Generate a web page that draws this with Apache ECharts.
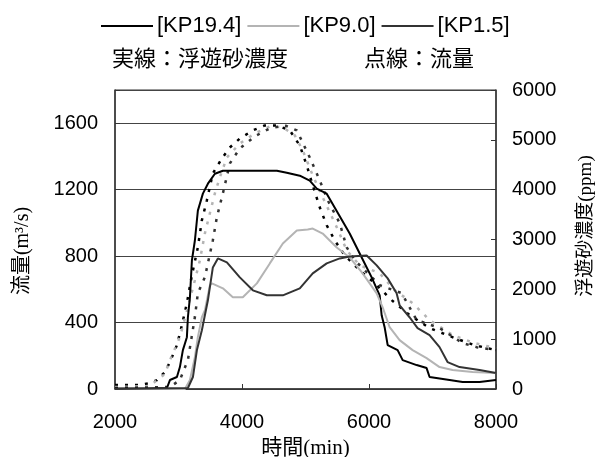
<!DOCTYPE html>
<html>
<head>
<meta charset="utf-8">
<script src="https://cdn.jsdelivr.net/npm/echarts@6/dist/echarts.min.js"></script>
<style>
html,body{margin:0;padding:0;background:#fff;}
#main{width:597px;height:457px;}
</style>
</head>
<body>
<div id="main"></div>
<script>
// ---- data ----
const seriesNames = ['[KP19.4]', '[KP9.0]', '[KP1.5]'];
const xTicks = [2000, 4000, 6000, 8000];
const leftTicks = [0, 400, 800, 1200, 1600];
const rightTicks = [0, 1000, 2000, 3000, 4000, 5000, 6000];

// suspended sediment concentration (ppm, right axis) - solid lines
const concTimeKP194 = [2000, 2500, 2818, 2865, 2975, 3022, 3069, 3132, 3148, 3180, 3211, 3258, 3305, 3384, 3463, 3573, 3699, 4000, 4550, 4705, 4910, 5067, 5177, 5334, 5696, 5885, 6042, 6168, 6199, 6246, 6294, 6451, 6530, 6750, 6907, 6954, 7269, 7474, 7741, 8000];
const concKP194 = [10, 10, 20, 180, 240, 440, 780, 1040, 1440, 1840, 2580, 2980, 3580, 3920, 4120, 4320, 4380, 4380, 4380, 4340, 4280, 4180, 4020, 3920, 3120, 2640, 2240, 1880, 1480, 1240, 880, 780, 580, 480, 420, 240, 180, 140, 140, 180];

const concTimeKP90 = [2000, 3101, 3180, 3258, 3305, 3368, 3416, 3494, 3526, 3699, 3856, 4013, 4234, 4438, 4643, 4863, 5035, 5114, 5271, 5492, 5696, 5900, 6121, 6215, 6325, 6482, 6687, 6907, 7111, 7316, 7631, 8000];
const concKP90 = [0, 0, 180, 640, 1040, 1440, 1580, 2080, 2120, 2020, 1840, 1840, 2120, 2520, 2920, 3180, 3200, 3220, 3120, 2840, 2640, 2320, 1920, 1640, 1240, 980, 780, 620, 440, 380, 340, 320];

const concTimeKP15 = [2000, 3148, 3227, 3290, 3368, 3463, 3541, 3620, 3762, 3966, 4171, 4391, 4643, 4910, 5114, 5334, 5539, 5696, 5963, 6121, 6294, 6435, 6482, 6639, 6765, 6954, 7111, 7237, 7426, 7741, 8000];
const concKP15 = [0, 20, 240, 780, 1180, 1780, 2440, 2620, 2540, 2240, 1980, 1880, 1880, 2020, 2320, 2520, 2620, 2660, 2680, 2480, 2220, 1920, 1680, 1440, 1220, 1080, 840, 540, 440, 380, 320];

// discharge (m3/s, left axis) - dotted lines
const flowTimeKP194 = [2000, 2393, 2550, 2661, 2786, 2865, 2975, 3054, 3132, 3211, 3305, 3368, 3447, 3541, 3683, 3809, 3966, 4171, 4359, 4548, 4753, 4910, 5020, 5114, 5224, 5334, 5460, 5617, 5853, 6089, 6357, 6640, 6954, 7348, 7663, 8000];
const flowKP194 = [24, 24, 36, 54, 102, 162, 264, 385, 517, 685, 853, 1016, 1136, 1298, 1388, 1454, 1508, 1557, 1587, 1587, 1557, 1466, 1346, 1226, 1094, 986, 895, 805, 715, 637, 535, 445, 367, 307, 264, 234];

const flowTimeKP90 = [2000, 2550, 2661, 2786, 2865, 3022, 3148, 3258, 3337, 3416, 3494, 3573, 3651, 3762, 3966, 4202, 4438, 4643, 4831, 4957, 5114, 5271, 5492, 5649, 5853, 6168, 6404, 6687, 6954, 7316, 7663, 8000];
const flowKP90 = [12, 18, 54, 90, 174, 313, 493, 655, 775, 938, 1058, 1178, 1274, 1394, 1478, 1539, 1581, 1575, 1527, 1436, 1286, 1154, 974, 835, 745, 697, 595, 517, 415, 325, 276, 246];

const flowTimeKP15 = [2000, 2865, 3022, 3148, 3258, 3305, 3416, 3463, 3541, 3604, 3699, 3809, 3966, 4202, 4438, 4674, 4863, 5067, 5224, 5350, 5539, 5649, 5775, 6168, 6514, 6750, 7111, 7474, 7694, 8000];
const flowKP15 = [6, 12, 54, 174, 433, 577, 673, 757, 895, 1034, 1178, 1358, 1448, 1521, 1569, 1587, 1557, 1394, 1256, 1136, 998, 853, 775, 625, 577, 415, 367, 276, 252, 234];

// ---- chart ----
const pair = (t, v) => t.map((x, i) => [x, v[i]]);
const colors = ['#000000', '#b4b4b4', '#333333'];
const latin = "'Liberation Sans', Arial, sans-serif";
const serifCJK = "'Liberation Serif', 'Noto Sans CJK JP', serif";

const chart = echarts.init(document.getElementById('main'), null, {renderer: 'canvas'});

const solid = (name, t, v, c) => ({
  name: name, type: 'line', yAxisIndex: 1, data: pair(t, v), showSymbol: false, symbol: 'none',
  lineStyle: {color: c, width: 2, type: 'solid'}, itemStyle: {color: c}, z: 3, animation: false
});
const dotted = (name, t, v, c) => ({
  name: name, type: 'line', yAxisIndex: 0, data: pair(t, v), showSymbol: false, symbol: 'none',
  lineStyle: {color: c, width: 2.5, type: [3, 7]}, itemStyle: {color: c}, z: 2, animation: false
});

chart.setOption({
  animation: false,
  backgroundColor: '#ffffff',
  grid: {left: 115, right: 101, top: 90, bottom: 68, show: true, borderColor: '#333', borderWidth: 1,
    containLabel: false, outerBoundsMode: 'none'},
  legend: {
    data: seriesNames, left: 96, top: 10, icon: 'rect', itemWidth: 52, itemHeight: 2, itemGap: 6,
    textStyle: {fontFamily: latin, fontSize: 22, color: '#000', padding: [0, 0, 0, -1]},
    selectedMode: false
  },
  graphic: [
    {type: 'text', left: 112, top: 47, style: {text: '実線：浮遊砂濃度', font: "22px 'Noto Sans CJK JP'", fill: '#000'}},
    {type: 'text', left: 364, top: 47, style: {text: '点線：流量', font: "22px 'Noto Sans CJK JP'", fill: '#000'}},
    {type: 'text', x: 23, y: 251, rotation: Math.PI / 2, style: {text: '流量(m³/s)', fontFamily: serifCJK, fontSize: 20, fill: '#000', align: 'center', verticalAlign: 'middle'}},
    {type: 'text', x: 586, y: 226, rotation: Math.PI / 2, style: {text: '浮遊砂濃度(ppm)', fontFamily: serifCJK, fontSize: 19, fill: '#000', align: 'center', verticalAlign: 'middle'}}
  ],
  xAxis: {
    type: 'value', min: xTicks[0], max: xTicks[xTicks.length - 1], interval: 2000,
    name: '時間(min)', nameLocation: 'middle', nameGap: 49,
    nameTextStyle: {fontFamily: serifCJK, fontSize: 21, color: '#000'},
    axisLine: {show: true, lineStyle: {color: '#333', width: 1.5}},
    axisTick: {show: true, inside: true, length: 5, lineStyle: {color: '#333'}},
    axisLabel: {fontFamily: latin, fontSize: 20, color: '#000', margin: 23,
      formatter: v => (xTicks.indexOf(v) >= 0 ? String(v) : '')},
    splitLine: {show: false}
  },
  yAxis: [
    {
      type: 'value', position: 'left', min: 0, max: 1800, interval: 400,
      axisLine: {show: true, lineStyle: {color: '#333', width: 1.5}},
      axisTick: {show: true, inside: true, length: 5, lineStyle: {color: '#333'}},
      axisLabel: {fontFamily: latin, fontSize: 20, color: '#000', margin: 17, padding: [6, 0, 0, 0],
        formatter: v => (leftTicks.indexOf(v) >= 0 ? String(v) : '')},
      splitLine: {show: true, lineStyle: {color: '#444', width: 1}}
    },
    {
      type: 'value', position: 'right', min: 0, max: 6000, interval: 1000,
      axisLine: {show: true, lineStyle: {color: '#333', width: 1.5}},
      axisTick: {show: true, inside: true, length: 5, lineStyle: {color: '#333'}},
      axisLabel: {fontFamily: latin, fontSize: 20, color: '#000', margin: 16, padding: [6, 0, 0, 0],
        formatter: v => (rightTicks.indexOf(v) >= 0 ? String(v) : '')},
      splitLine: {show: false}
    }
  ],
  series: [
    dotted('flow19.4', flowTimeKP194, flowKP194, colors[0]),
    dotted('flow9.0', flowTimeKP90, flowKP90, colors[1]),
    dotted('flow1.5', flowTimeKP15, flowKP15, colors[2]),
    solid(seriesNames[0], concTimeKP194, concKP194, colors[0]),
    solid(seriesNames[1], concTimeKP90, concKP90, colors[1]),
    solid(seriesNames[2], concTimeKP15, concKP15, colors[2])
  ]
});
</script>
</body>
</html>
